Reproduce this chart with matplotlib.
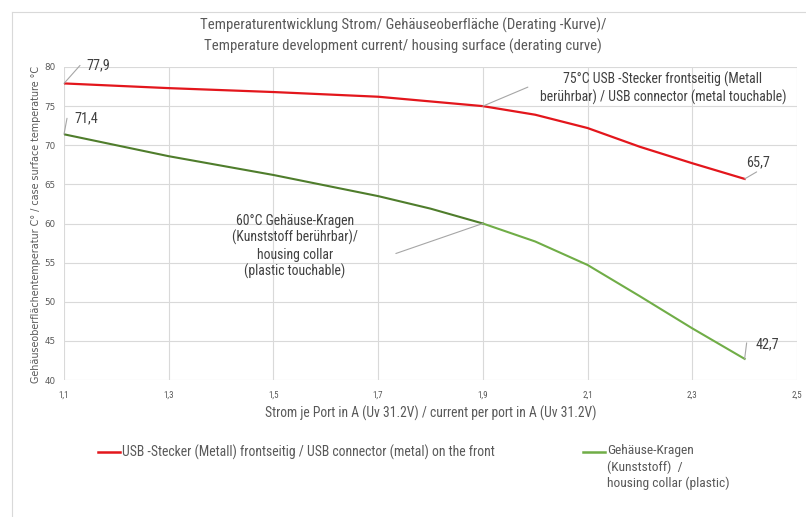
import matplotlib
matplotlib.use("Agg")
import matplotlib.pyplot as plt
from matplotlib import font_manager
from matplotlib.lines import Line2D

# values
current = [1.1, 1.3, 1.5, 1.7, 1.8, 1.9, 2.0, 2.1, 2.2, 2.3, 2.4]
usb_temp = [77.9, 77.3, 76.8, 76.2, 75.6, 75.0, 73.9, 72.2, 69.8, 67.7, 65.7]
collar_temp = [71.4, 68.6, 66.2, 63.5, 61.9, 60.0, 57.7, 54.7, 50.7, 46.6, 42.7]

x_ticks = [1.1, 1.3, 1.5, 1.7, 1.9, 2.1, 2.3, 2.5]
y_ticks = [40, 45, 50, 55, 60, 65, 70, 75, 80]

# limit points marked with callouts
limit_current = 1.9
usb_limit = 75
collar_limit = 60

title = ("Temperaturentwicklung Strom/ Gehäuseoberfläche (Derating -Kurve)/\n"
         "Temperature development current/ housing surface (derating curve)")
x_label = "Strom je Port in A (Uv 31.2V) / current per port in A (Uv 31.2V)"
y_label = "Gehäuseoberflächentemperatur C° / case surface temperature °C"
usb_name = "USB -Stecker (Metall) frontseitig / USB connector (metal) on the front"
collar_name = "Gehäuse-Kragen\n(Kunststoff)  /\nhousing collar (plastic)"
usb_note = "75°C USB -Stecker frontseitig (Metall\nberührbar) / USB connector (metal touchable)"
collar_note = "60°C Gehäuse-Kragen\n(Kunststoff berührbar)/\nhousing collar\n(plastic touchable)"

RED = "#e3161c"
GREEN_DARK = "#4f7d2c"
GREEN = "#70ad47"
GREY_TXT = "#595959"
DARK_TXT = "#404040"
GRID = "#d9d9d9"
LEADER = "#a6a6a6"

# narrow font close to Calibri if there is one
names = {f.name for f in font_manager.fontManager.ttflist}
narrow = "DejaVu Sans"
for cand in ["Liberation Sans Narrow", "Roboto Condensed", "Open Sans Condensed", "Roboto"]:
    if cand in names:
        narrow = cand
        break
plt.rcParams["font.family"] = [narrow, "DejaVu Sans"]

W, H = 806, 517
fig = plt.figure(figsize=(W / 100, H / 100), dpi=100, facecolor="white")


def fx(px):
    return px / W


def fy(py):
    return 1 - py / H


# chart area frame
fig.add_artist(Line2D([fx(12), 1], [fy(12), fy(12)], color=GRID, lw=0.8))
fig.add_artist(Line2D([fx(12), fx(12)], [fy(12), 0], color=GRID, lw=0.8))

ax = fig.add_axes([fx(64), fy(380), fx(797) - fx(64), fy(67) - fy(380)])
ax.set_xlim(1.1, 2.5)
ax.set_ylim(40, 80)
ax.set_xticks(x_ticks)
ax.set_xticklabels([f"{v:.1f}".replace(".", ",") for v in x_ticks])
ax.set_yticks(y_ticks)
ax.set_yticklabels([str(v) for v in y_ticks], family="DejaVu Sans")
ax.tick_params(length=0, labelsize=6.5, colors=GREY_TXT, pad=8)
ax.tick_params(axis="y", pad=6, labelsize=6.3)
for s in ax.spines.values():
    s.set_visible(False)
ax.grid(True, color=GRID, lw=0.8)
ax.set_axisbelow(True)

ax.plot(current, usb_temp, color=RED, lw=1.6, solid_joinstyle="round")
k = current.index(limit_current)
ax.plot(current[:k + 1], collar_temp[:k + 1], color=GREEN_DARK, lw=1.5,
        solid_joinstyle="round")
ax.plot(current[k:], collar_temp[k:], color=GREEN, lw=1.5, solid_joinstyle="round")

ax.set_xlabel(x_label, fontsize=9.8, color=GREY_TXT, labelpad=4)
fig.text(fx(36), fy(224), y_label, rotation=90, ha="center", va="center",
         fontsize=6.9, color=GREY_TXT, family="DejaVu Sans")
fig.text(0.5, fy(36), title, ha="center", va="center", fontsize=10.6,
         color=GREY_TXT, linespacing=1.45)

lead = dict(arrowstyle="-", color=LEADER, lw=0.8, shrinkA=0, shrinkB=0)


def fmt(v):
    return f"{v:.1f}".replace(".", ",")


# end value labels
ends = [
    (current[0], usb_temp[0], (16, 18), (22, 18), "left"),
    (current[0], collar_temp[0], (3, 16), (10, 16), "left"),
    (current[-1], usb_temp[-1], (12, 7), (13, 17), "center"),
    (current[-1], collar_temp[-1], (2, 16), (11, 15), "left"),
]
for xv, yv, lo, to, ha in ends:
    ax.annotate("", xy=(xv, yv), xytext=lo, textcoords="offset pixels",
                arrowprops=lead, annotation_clip=False)
    ax.annotate(fmt(yv), xy=(xv, yv), xytext=to, textcoords="offset pixels",
                ha=ha, va="center", fontsize=10.3, color=DARK_TXT,
                annotation_clip=False)

# limit callouts
ax.annotate("", xy=(limit_current, usb_limit), xytext=(45, 19),
            textcoords="offset pixels", arrowprops=lead)
ax.annotate(usb_note, xy=(limit_current, usb_limit), xytext=(180, 18),
            textcoords="offset pixels", ha="center", va="center",
            multialignment="center", fontsize=9.9, color=DARK_TXT, linespacing=1.2)
ax.annotate("", xy=(limit_current, collar_limit), xytext=(-87, -30),
            textcoords="offset pixels", arrowprops=lead)
ax.annotate(collar_note, xy=(limit_current, collar_limit), xytext=(-188, -23),
            textcoords="offset pixels", ha="center", va="center",
            multialignment="center", fontsize=9.9, color=DARK_TXT, linespacing=1.2)

# legend below the plot
fig.add_artist(Line2D([fx(98), fx(120)], [fy(452), fy(452)], color=RED, lw=1.8))
fig.text(fx(122), fy(452), usb_name, ha="left", va="center", fontsize=9.9, color=GREY_TXT)
fig.add_artist(Line2D([fx(583), fx(605)], [fy(452), fy(452)], color=GREEN, lw=1.8))
fig.text(fx(607), fy(444), collar_name, ha="left", va="top", fontsize=9.7,
         color=GREY_TXT, linespacing=1.3)

fig.savefig("out.png", dpi=100, facecolor="white")
